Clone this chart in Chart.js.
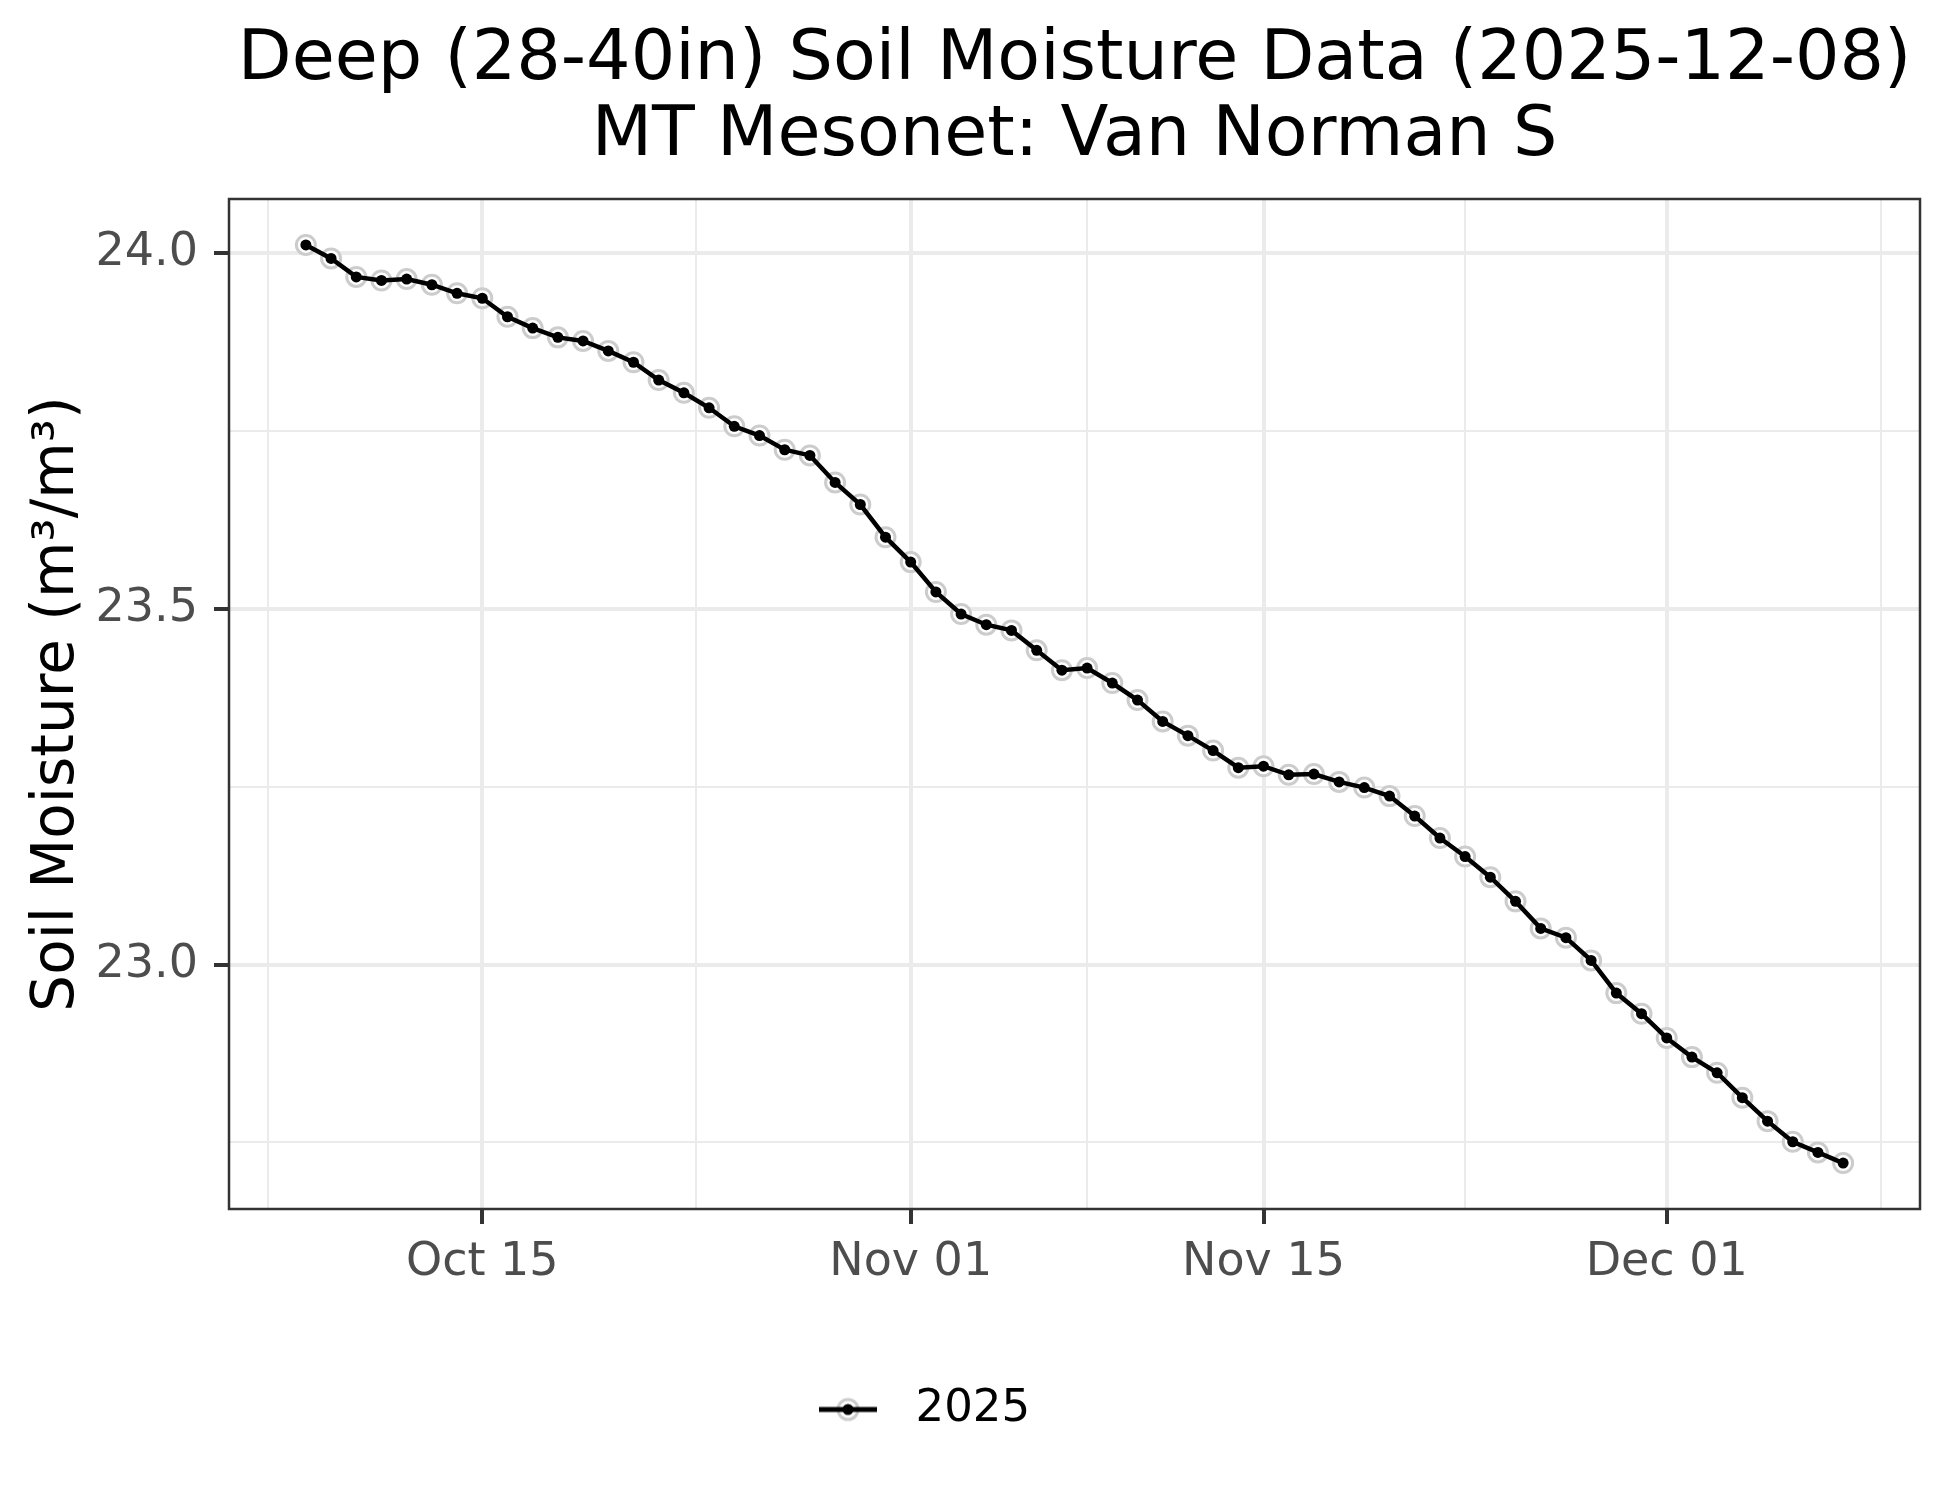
<!DOCTYPE html>
<html>
<head>
<meta charset="utf-8">
<title>Deep Soil Moisture - Van Norman S</title>
<script src="https://cdn.jsdelivr.net/npm/chart.js@4.4.1/dist/chart.umd.min.js"></script>
<style>
  html, body { margin: 0; padding: 0; background: #ffffff; }
  #chart { display: block; }
</style>
</head>
<body>
<canvas id="chart" width="1950" height="1500"></canvas>
<script>
// daily values, first one is startDate
const startDate = '2025-10-08';
const moisture = [
  24.012, 23.993, 23.967, 23.962, 23.964, 23.956, 23.944, 23.937, 23.911, 23.895,
  23.882, 23.877, 23.863, 23.847, 23.822, 23.804, 23.783, 23.757, 23.744, 23.724,
  23.716, 23.678, 23.647, 23.601, 23.566, 23.524, 23.493, 23.478, 23.470, 23.442,
  23.414, 23.417, 23.396, 23.372, 23.342, 23.322, 23.301, 23.277, 23.279, 23.267,
  23.268, 23.257, 23.249, 23.237, 23.209, 23.178, 23.152, 23.123, 23.089, 23.051,
  23.038, 23.006, 22.960, 22.931, 22.897, 22.870, 22.848, 22.813, 22.780, 22.751,
  22.736, 22.721
];
const seriesLabel = '2025';

const xMajorDates = ['2025-10-15T00:00', '2025-11-01T00:00', '2025-11-15T00:00', '2025-12-01T00:00'];
const xMajorLabels = ['Oct 15', 'Nov 01', 'Nov 15', 'Dec 01'];
const xMinorDates = ['2025-10-06T12:00', '2025-10-23T12:00', '2025-11-08T00:00', '2025-11-23T00:00', '2025-12-09T12:00'];
const yMajorTicks = [23.0, 23.5, 24.0];
const yMinorTicks = [22.75, 23.25, 23.75];

const titleLines = ['Deep (28-40in) Soil Moisture Data (2025-12-08)', 'MT Mesonet: Van Norman S'];
const yTitle = 'Soil Moisture (m\u00B3/m\u00B3)';

const FONT = "'DejaVu Sans', 'Liberation Sans', sans-serif";
const GRID = '#ebebeb';
const AXIS = '#333333';
const RING = '#cccccc';

function dayOf(s) {
  return (Date.parse(s + 'Z') - Date.parse(startDate + 'T00:00Z')) / 86400000;
}
const xMajor = xMajorDates.map(dayOf);
const xMinor = xMinorDates.map(dayOf);

// ggplot style 5% expansion
const n = moisture.length;
const xPad = (n - 1) * 0.05;
const yLo = Math.min(...moisture), yHi = Math.max(...moisture);
const yPad = (yHi - yLo) * 0.05;

const points = moisture.map((v, i) => ({ x: i, y: v }));

// legend key: line + grey ring + black dot
const legendKey = document.createElement('canvas');
legendKey.width = 74;
legendKey.height = 28;
(function () {
  const c = legendKey.getContext('2d');
  c.strokeStyle = RING; c.lineWidth = 3; c.fillStyle = '#fff';
  c.beginPath(); c.arc(29, 14, 10, 0, Math.PI * 2); c.fill(); c.stroke();
  c.strokeStyle = '#000'; c.lineWidth = 5;
  c.beginPath(); c.moveTo(0, 14); c.lineTo(58, 14); c.stroke();
  c.fillStyle = '#000';
  c.beginPath(); c.arc(29, 14, 5.5, 0, Math.PI * 2); c.fill();
})();

const isMajorX = v => xMajor.some(m => Math.abs(m - v) < 1e-6);
const isMajorY = v => yMajorTicks.some(m => Math.abs(m - v) < 1e-6);

const panelBorder = {
  id: 'panelBorder',
  afterDatasetsDraw(chart) {
    const { ctx, chartArea: a } = chart;
    ctx.save();
    ctx.strokeStyle = AXIS;
    ctx.lineWidth = 2.5;
    ctx.strokeRect(a.left, a.top, a.right - a.left, a.bottom - a.top);
    ctx.restore();
  },
  afterLayout(chart) {
    // put the legend key where ggplot has it
    chart.legend.left = 809;
  }
};

new Chart(document.getElementById('chart').getContext('2d'), {
  type: 'line',
  data: {
    datasets: [
      {
        label: seriesLabel + ' ring',
        data: points,
        showLine: false,
        pointRadius: 9.5,
        pointBorderWidth: 3,
        pointBorderColor: RING,
        pointBackgroundColor: '#ffffff',
        order: 2
      },
      {
        label: seriesLabel,
        data: points,
        borderColor: '#000000',
        borderWidth: 4.5,
        tension: 0,
        pointRadius: 5.5,
        pointBorderWidth: 0,
        pointBackgroundColor: '#000000',
        order: 1
      }
    ]
  },
  options: {
    responsive: false,
    animation: false,
    devicePixelRatio: 1,
    layout: { padding: { left: 0, right: 30, top: 0, bottom: 58 } },
    plugins: {
      tooltip: { enabled: false },
      title: {
        display: true,
        text: titleLines,
        fullSize: false,
        color: '#000000',
        font: { family: FONT, size: 70, weight: 'normal', lineHeight: 76 / 70 },
        padding: { top: 23, bottom: 24 }
      },
      legend: {
        display: true,
        position: 'bottom',
        align: 'start',
        labels: {
          usePointStyle: true,
          pointStyleWidth: 74,
          padding: 10,
          color: '#000000',
          font: { family: FONT, size: 45 },
          generateLabels: chart => Chart.defaults.plugins.legend.labels.generateLabels(chart)
            .filter(item => item.datasetIndex === 1)
            .map(item => Object.assign(item, { pointStyle: legendKey }))
        }
      }
    },
    scales: {
      x: {
        type: 'linear',
        min: -xPad,
        max: n - 1 + xPad,
        afterBuildTicks: scale => {
          scale.ticks = xMinor.concat(xMajor).sort((a, b) => a - b).map(v => ({ value: v }));
        },
        afterFit: scale => { scale.height = 168; },
        ticks: {
          autoSkip: false,
          maxRotation: 0,
          padding: 11,
          color: '#4d4d4d',
          font: { family: FONT, size: 46 },
          callback: v => {
            const k = xMajor.findIndex(m => Math.abs(m - v) < 1e-6);
            return k >= 0 ? xMajorLabels[k] : '';
          }
        },
        grid: {
          color: GRID,
          lineWidth: c => isMajorX(c.tick.value) ? 4 : 2,
          tickLength: 15,
          tickWidth: 4,
          tickColor: c => isMajorX(c.tick.value) ? AXIS : 'rgba(0,0,0,0)'
        },
        border: { display: false }
      },
      y: {
        type: 'linear',
        min: yLo - yPad,
        max: yHi + yPad,
        afterBuildTicks: scale => {
          scale.ticks = yMinorTicks.concat(yMajorTicks).sort((a, b) => a - b).map(v => ({ value: v }));
        },
        afterFit: scale => { scale.width = 229; },
        ticks: {
          padding: 16,
          color: '#4d4d4d',
          font: { family: FONT, size: 46 },
          callback: v => isMajorY(v) ? v.toFixed(1) : ''
        },
        grid: {
          color: GRID,
          lineWidth: c => isMajorY(c.tick.value) ? 4 : 2,
          tickLength: 15,
          tickWidth: 4,
          tickColor: c => isMajorY(c.tick.value) ? AXIS : 'rgba(0,0,0,0)'
        },
        border: { display: false },
        title: {
          display: true,
          text: yTitle,
          color: '#000000',
          font: { family: FONT, size: 58 },
          padding: { top: 23, bottom: 0 }
        }
      }
    }
  },
  plugins: [panelBorder]
});
</script>
</body>
</html>
